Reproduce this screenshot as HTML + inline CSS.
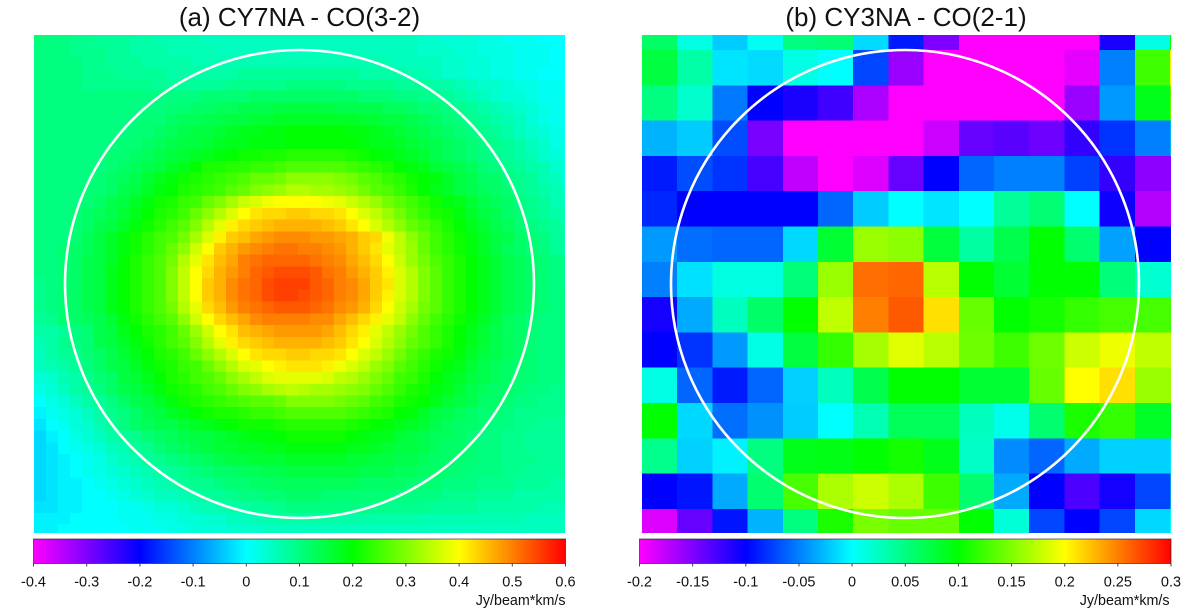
<!DOCTYPE html>
<html lang="en">
<head>
<meta charset="utf-8">
<title>CY7NA and CY3NA CO maps</title>
<style>
html,body{margin:0;padding:0;background:#fff;}
svg{display:block;font-family:"Liberation Sans",Arial,sans-serif;}
</style>
</head>
<body>
<svg id="fig" xmlns="http://www.w3.org/2000/svg" width="1200" height="610" viewBox="0 0 1200 610">
  <defs>
    <clipPath id="clipA"><rect x="34" y="35" width="531" height="498"/></clipPath>
    <clipPath id="clipB"><rect x="642" y="35" width="529" height="498"/></clipPath>
  </defs>
  <rect x="0" y="0" width="1200" height="610" fill="#ffffff"/>
  <text x="299.5" y="26" font-size="26" text-anchor="middle" fill="#111">(a) CY7NA - CO(3-2)</text>
  <text x="906" y="26" font-size="26" text-anchor="middle" fill="#111">(b) CY3NA - CO(2-1)</text>
  <g id="heatA" clip-path="url(#clipA)" shape-rendering="crispEdges"></g>
  <g id="heatB" clip-path="url(#clipB)" shape-rendering="crispEdges"></g>
  <ellipse cx="299.5" cy="284" rx="234.5" ry="234" fill="none" stroke="#ffffff" stroke-width="2.6"/>
  <ellipse cx="905" cy="284" rx="234" ry="234" fill="none" stroke="#ffffff" stroke-width="2.6"/>
  <g id="barA"></g>
  <g id="barB"></g>
  <text x="565.5" y="605" font-size="14.3" text-anchor="end" fill="#111">Jy/beam*km/s</text>
  <text x="1169.5" y="605" font-size="14.3" text-anchor="end" fill="#111">Jy/beam*km/s</text>
</svg>
<script>
// Colour scale anchors, evenly spaced from low to high
const colormapStops = [[255,0,255],[0,0,255],[0,255,255],[0,255,0],[255,255,0],[255,0,0]];

// Panel (a): CO(3-2) integrated intensity, in units of 0.01 Jy/beam*km/s (rows top to bottom)
const co32Values = [
[11,10,10,9,9,8,8,8,7,7,6,6,6,6,5,5,5,5,5,5,5,5,5,5,5,5,5,5,5,5,5,5,4,4,3,3,3,2,2,1,1,1,0,0,0],
[10,10,10,9,9,9,8,8,7,7,7,6,6,6,6,5,5,5,5,5,5,5,5,5,5,5,5,5,5,5,5,5,4,4,4,3,3,2,2,2,1,1,1,0,0],
[10,10,10,10,9,9,8,8,8,7,7,7,7,6,6,6,6,6,6,6,6,6,6,6,6,6,6,6,6,6,5,5,5,5,4,4,3,3,2,2,1,1,1,0,0],
[10,10,10,10,9,9,9,8,8,8,8,7,7,7,7,7,7,8,8,8,8,8,8,8,8,8,8,7,7,7,7,6,6,5,4,4,3,3,2,2,1,1,0,0,0],
[10,10,10,10,9,9,9,9,9,9,8,8,8,8,8,8,9,9,9,9,9,10,10,10,10,10,9,9,9,9,8,8,8,7,7,6,5,4,4,3,2,2,1,1,0],
[10,10,10,10,10,10,10,10,10,10,10,10,10,10,11,11,11,11,12,12,12,12,12,12,12,12,12,11,11,11,10,10,9,9,8,7,6,5,4,3,3,2,1,1,1],
[10,10,10,10,10,10,10,10,10,10,10,11,11,12,12,13,13,14,14,14,15,15,15,15,15,14,14,14,14,13,13,12,11,11,10,9,8,7,6,5,4,3,2,1,1],
[10,10,10,10,10,10,10,10,10,11,11,12,13,13,14,14,15,15,16,16,17,17,17,17,17,17,17,16,16,15,15,14,13,12,11,10,9,8,7,6,5,3,2,1,1],
[10,10,10,10,10,10,10,10,11,11,12,13,14,15,15,16,17,18,18,19,19,20,20,20,20,20,19,19,18,17,16,15,14,13,12,11,10,9,8,7,5,4,3,2,1],
[10,10,10,10,10,10,10,11,11,12,13,14,15,15,16,17,18,18,19,19,19,20,20,20,20,20,20,19,18,18,17,16,15,14,13,12,11,10,9,8,7,5,4,2,2],
[10,10,10,10,10,10,11,11,12,13,14,15,16,17,18,19,20,21,21,22,22,23,23,23,23,23,22,21,20,19,18,17,16,14,13,12,11,10,9,8,7,6,4,3,2],
[10,10,10,10,10,10,11,12,13,14,15,17,18,20,22,22,23,23,24,24,25,26,26,26,26,26,25,24,23,22,20,19,18,16,15,14,13,11,10,9,8,7,6,4,3],
[10,10,10,10,10,11,12,13,14,16,18,19,21,22,23,24,25,26,28,28,29,31,31,31,31,30,29,27,26,24,23,21,20,19,17,15,14,12,12,10,9,8,6,5,3],
[10,10,10,10,11,11,12,14,15,17,19,20,22,23,24,25,27,28,30,31,32,34,34,33,33,32,31,29,27,26,24,22,20,18,17,15,14,13,12,11,9,8,7,6,4],
[10,10,10,10,11,12,14,15,17,19,21,22,24,25,28,30,33,36,37,39,40,40,40,40,39,38,36,34,32,29,27,25,23,21,19,18,16,14,13,12,10,9,8,6,5],
[10,10,10,11,12,13,14,16,18,20,22,23,25,28,31,34,37,40,42,43,43,44,44,43,43,42,40,37,35,32,29,26,24,22,21,19,17,15,14,12,11,9,8,7,6],
[10,10,10,11,12,14,15,17,19,21,23,25,27,30,34,38,41,43,44,45,46,46,46,46,45,44,42,40,37,34,31,28,26,24,22,20,18,16,14,13,11,10,9,8,6],
[10,10,10,11,13,15,17,19,21,23,25,26,29,33,37,41,44,45,47,48,49,49,49,48,48,47,46,44,43,39,35,31,28,25,23,21,19,17,15,14,12,11,10,8,7],
[10,10,11,12,13,15,17,19,21,23,25,28,31,36,40,44,46,48,49,50,51,51,50,50,49,48,46,44,42,38,35,32,28,25,23,21,19,17,15,13,12,11,10,8,7],
[10,10,11,12,14,15,17,20,22,24,26,29,34,38,42,45,47,50,51,52,52,52,52,51,50,49,47,45,43,40,36,32,29,26,24,22,20,18,16,14,13,12,11,10,9],
[10,10,11,12,14,15,18,20,22,24,26,30,35,40,43,46,48,50,52,53,54,54,54,53,51,50,48,46,44,41,37,34,30,27,24,22,20,18,16,14,13,12,11,10,9],
[9,10,11,12,14,15,18,20,22,24,26,30,35,40,44,46,49,51,52,54,55,55,55,53,52,50,49,47,44,42,37,34,30,27,24,22,20,18,16,14,13,12,11,10,9],
[9,10,11,12,14,15,18,20,22,24,26,30,35,40,44,46,49,51,52,54,55,55,54,53,52,50,49,47,44,41,37,34,30,27,24,22,20,18,16,14,13,12,11,10,10],
[9,10,11,12,14,15,18,20,22,24,26,29,34,38,43,45,48,50,51,52,53,53,53,52,51,49,48,46,43,40,36,33,29,27,24,22,20,18,16,14,13,12,11,10,10],
[8,9,11,12,13,14,16,19,21,23,25,27,31,36,40,43,45,47,49,50,50,50,50,49,49,47,45,43,41,38,35,31,28,25,23,21,19,17,15,13,12,11,10,10,10],
[7,7,8,10,11,14,15,18,20,22,23,25,28,32,36,40,42,45,46,47,48,48,48,48,47,45,43,41,38,35,32,29,26,24,22,20,18,16,14,13,12,11,10,10,10],
[6,7,9,10,11,14,15,17,19,21,23,25,27,30,34,38,41,43,44,45,46,46,46,46,45,44,42,40,37,34,31,28,26,24,22,20,18,16,14,13,12,11,10,10,10],
[5,7,8,9,11,12,14,16,18,20,22,23,25,28,31,34,37,40,42,43,43,44,44,43,43,42,40,37,35,32,29,26,24,22,21,19,17,15,14,13,12,11,10,10,10],
[5,6,7,8,10,12,14,15,17,19,21,22,24,25,28,31,34,37,38,40,41,42,42,42,41,39,37,35,32,30,27,25,23,21,19,18,16,14,13,12,11,11,10,10,10],
[3,4,6,7,9,11,12,15,16,18,20,22,23,25,26,28,31,33,35,37,38,38,38,38,37,35,34,32,30,28,25,24,22,20,18,17,15,14,13,12,11,11,10,10,9],
[2,3,5,7,8,10,12,14,15,17,19,21,22,23,25,26,28,30,31,33,34,35,34,33,33,32,31,30,28,26,24,22,21,19,18,16,14,13,12,12,11,10,10,9,9],
[0,2,3,5,7,8,10,12,14,15,17,19,21,22,23,24,25,26,27,27,28,30,30,30,30,29,28,27,25,24,22,21,20,18,16,15,14,12,12,11,10,10,9,9,9],
[-1,1,2,3,5,7,9,10,12,14,15,17,18,20,21,22,22,23,24,24,25,26,26,26,26,26,25,24,23,22,20,19,17,15,14,13,12,11,11,10,9,9,9,9,8],
[-2,0,1,3,4,6,8,10,12,13,14,14,16,17,18,19,20,21,21,21,22,23,23,23,23,23,22,21,20,19,18,17,16,14,13,12,12,11,10,10,9,9,8,8,8],
[-3,-1,0,2,3,5,7,8,9,11,12,13,14,15,15,16,17,18,19,19,20,21,21,21,21,21,20,19,18,18,16,15,14,13,13,12,11,10,10,9,9,8,8,8,8],
[-3,-2,0,1,2,3,5,6,8,9,11,12,13,14,15,16,16,17,17,18,18,19,19,19,19,19,18,18,17,16,15,15,14,13,12,12,11,10,10,9,9,8,8,8,8],
[-3,-2,-1,0,1,2,4,5,6,8,9,10,11,12,13,14,15,15,16,16,16,17,17,17,17,17,16,16,15,15,14,14,13,12,12,11,11,10,10,9,9,9,8,8,8],
[-3,-2,-1,0,1,2,3,4,5,6,7,8,9,10,11,12,12,13,13,14,14,15,15,15,15,15,15,14,14,14,13,13,12,12,11,11,10,10,10,9,9,8,8,8,8],
[-3,-2,-1,-1,0,1,2,3,4,5,6,7,8,9,9,10,11,11,12,12,13,13,13,13,13,13,13,12,12,12,12,11,11,11,10,10,10,9,9,9,8,8,8,7,7],
[-3,-2,-1,-1,0,0,1,2,3,4,5,5,6,7,8,8,9,10,10,11,11,12,12,12,11,11,11,11,11,11,10,10,10,10,9,9,9,8,8,8,7,7,7,7,7],
[-2,-2,-1,-1,0,0,0,1,1,2,3,3,4,5,6,6,7,7,8,8,9,10,10,10,10,10,10,10,9,9,9,9,9,8,8,8,8,7,7,7,7,7,6,6,6],
[-1,-1,-1,0,0,0,0,1,1,1,2,2,3,3,4,4,5,5,6,6,7,7,7,7,7,7,7,7,7,7,7,7,6,6,6,6,6,6,6,6,6,5,5,5,5],
[-1,-1,0,0,0,0,0,0,1,1,1,2,2,3,3,3,4,4,4,5,5,5,5,5,5,5,5,5,5,5,5,5,5,5,5,5,5,5,5,5,5,5,5,5,5]
];

// Panel (b): CO(2-1) integrated intensity, Jy/beam*km/s (rows top to bottom)
const co21Values = [
[.06,.01,-.02,.005,.05,.055,-.014,-.09,-.15,-.2,-.2,-.2,-.2,-.11,.01,.1],
[.075,.035,-.01,-.014,.01,0,-.073,-.16,-.2,-.2,-.2,-.2,-.19,-.05,.125,.2],
[.05,.02,-.053,-.1,-.11,-.125,-.167,-.2,-.2,-.2,-.2,-.2,-.16,-.04,.09,.14],
[-.03,-.02,-.07,-.147,-.2,-.2,-.2,-.2,-.18,-.14,-.135,-.143,-.12,-.08,-.05,-.03],
[-.09,-.07,-.08,-.127,-.175,-.2,-.186,-.14,-.1,-.06,-.05,-.05,-.075,-.12,-.155,-.155],
[-.085,-.1,-.1,-.1,-.1,-.06,-.02,0,-.01,0,.04,.055,0,-.105,-.17,-.17],
[-.04,-.057,-.06,-.06,-.015,.08,.16,.155,.076,.037,.07,.1,.057,-.037,-.1,-.1],
[-.05,-.012,.012,.012,.053,.16,.257,.26,.172,.1,.08,.1,.1,.053,.018,.018],
[-.108,-.033,.025,.06,.1,.175,.25,.265,.212,.14,.1,.108,.12,.127,.127,.127],
[-.1,-.08,-.04,.01,.075,.12,.165,.188,.173,.143,.124,.143,.18,.194,.175,.175],
[.01,-.06,-.09,-.06,-.018,.025,.07,.1,.1,.08,.08,.14,.2,.212,.16,.16],
[.1,-.015,-.057,-.043,-.02,0,.03,.065,.065,.025,.008,.057,.11,.12,.085,.085],
[.045,-.018,-.005,.05,.09,.092,.1,.108,.09,.022,-.045,-.06,-.033,-.018,-.018,-.01],
[-.1,-.092,-.033,.057,.128,.167,.18,.167,.124,.057,-.033,-.1,-.13,-.108,-.073,-.04],
[-.186,-.14,-.092,-.03,.05,.11,.147,.14,.14,.1,.015,-.073,-.1,-.073,-.015,0]
];

// Colour-bar ranges and tick labels
const rangeA = [-0.4, 0.6];
const rangeB = [-0.2, 0.3];
const ticksA = ["-0.4","-0.3","-0.2","-0.1","0","0.1","0.2","0.3","0.4","0.5","0.6"];
const ticksB = ["-0.2","-0.15","-0.1","-0.05","0","0.05","0.1","0.15","0.2","0.25","0.3"];

const SVGNS = "http://www.w3.org/2000/svg";

function colorFor(v, range) {
  let t = (v - range[0]) / (range[1] - range[0]) * (colormapStops.length - 1);
  t = Math.max(0, Math.min(colormapStops.length - 1, t));
  const i = Math.min(Math.floor(t), colormapStops.length - 2);
  const f = t - i;
  const a = colormapStops[i], b = colormapStops[i + 1];
  const c = [0, 1, 2].map(function (k) { return Math.round(a[k] + (b[k] - a[k]) * f); });
  return "rgb(" + c[0] + "," + c[1] + "," + c[2] + ")";
}

// Axis functions mapping cell indices to pixels
function xCellA(i) { return 34 + i * 12; }
function yCellA(j) { return 43.6 + (j - 1) * 11.73; }
function xCellB(i) { return 642 + i * 35.2; }
function yCellB(j) { return 50 + (j - 1) * 35.3; }

function drawHeatmap(groupId, rows, scale, range, xCell, yCell, cellName) {
  const g = document.getElementById(groupId);
  rows.forEach(function (row, j) {
    row.forEach(function (raw, i) {
      const r = document.createElementNS(SVGNS, "rect");
      r.setAttribute("x", xCell(i).toFixed(2));
      r.setAttribute("y", yCell(j).toFixed(2));
      r.setAttribute("width", (xCell(i + 1) - xCell(i) + 0.4).toFixed(2));
      r.setAttribute("height", (yCell(j + 1) - yCell(j) + 0.4).toFixed(2));
      r.setAttribute("fill", colorFor(raw * scale, range));
      
      
      g.appendChild(r);
    });
  });
}

function drawColorbar(groupId, gradId, x0, x1, range, labels, tickName, labelName, barName) {
  const y0 = 539, y1 = 563.5;
  const g = document.getElementById(groupId);
  const defs = document.querySelector("#fig defs");
  const grad = document.createElementNS(SVGNS, "linearGradient");
  grad.setAttribute("id", gradId);
  colormapStops.forEach(function (c, i) {
    const s = document.createElementNS(SVGNS, "stop");
    s.setAttribute("offset", String(i / (colormapStops.length - 1)));
    s.setAttribute("stop-color", "rgb(" + c.join(",") + ")");
    grad.appendChild(s);
  });
  defs.appendChild(grad);

  const bar = document.createElementNS(SVGNS, "rect");
  bar.setAttribute("x", x0);
  bar.setAttribute("y", y0);
  bar.setAttribute("width", x1 - x0);
  bar.setAttribute("height", y1 - y0);
  bar.setAttribute("fill", "url(#" + gradId + ")");
  bar.setAttribute("stroke", "#222");
  bar.setAttribute("stroke-opacity", "0.65");
  bar.setAttribute("stroke-width", "1");
  
  
  g.appendChild(bar);

  labels.forEach(function (label, i) {
    const x = x0 + (x1 - x0) * i / (labels.length - 1);
    const t = document.createElementNS(SVGNS, "line");
    t.setAttribute("x1", x);
    t.setAttribute("x2", x);
    t.setAttribute("y1", y1);
    t.setAttribute("y2", 566.5);
    t.setAttribute("stroke", "#444");
    t.setAttribute("stroke-width", "1");
    
    
    g.appendChild(t);

    const txt = document.createElementNS(SVGNS, "text");
    txt.setAttribute("x", x);
    txt.setAttribute("y", 586.5);
    txt.setAttribute("font-size", "14.5");
    txt.setAttribute("text-anchor", "middle");
    txt.setAttribute("fill", "#111");
    
    
    txt.textContent = label;
    g.appendChild(txt);
  });
}

drawHeatmap("heatA", co32Values, 0.01, rangeA, xCellA, yCellA, "co32-cell");
drawHeatmap("heatB", co21Values, 1, rangeB, xCellB, yCellB, "co21-cell");
drawColorbar("barA", "gradA", 33.5, 565.5, rangeA, ticksA, "panel-a-colorbar-tick", "panel-a-colorbar-label", "panel-a-colorbar-ramp");
drawColorbar("barB", "gradB", 639.5, 1171, rangeB, ticksB, "panel-b-colorbar-tick", "panel-b-colorbar-label", "panel-b-colorbar-ramp");
</script>
</body>
</html>
